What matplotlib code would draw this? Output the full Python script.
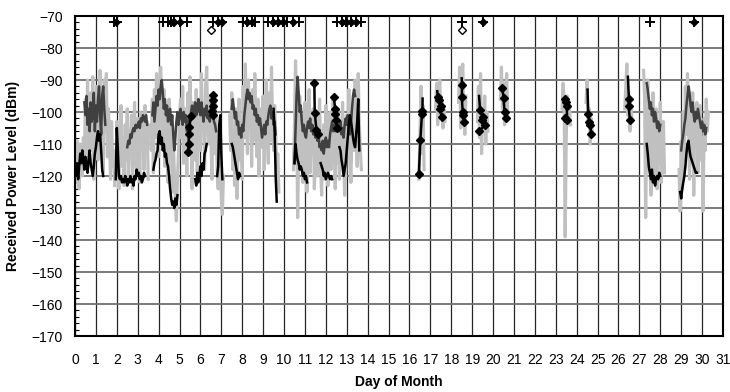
import numpy as np
import matplotlib
matplotlib.use("Agg")
import matplotlib.pyplot as plt
from matplotlib.ticker import MultipleLocator

nan = np.nan
STEP = 0.05  # sample spacing of the logged levels, in days

# light grey trace: segment start day + sampled levels (dBm)
light_start = [0.00, 1.95, 3.60, 7.40, 10.45, 16.45, 17.25, 18.35, 19.25,
               20.35, 23.30, 24.45, 26.30, 27.20, 28.90]
light_dbm = [
    [-112, -122, -109, -118, -124, -110, -116, -120, -108, -115, -96, -113, -90,
     -117, -104, -94, -112, -89, -121, -98, -108, -92, -115, -101, -87, -110,
     -96, -119, -90, -106, -88, -114, -99, -108, -121, -103, -117, -112, -123],
    [-121, -103, -118, -124, -110, -98, -117, -108, -123, -104, -115, -99, -121,
     -106, -112, -101, -124, -105, -97, -114, -119, -102, -108, -122, -100, -111,
     -104, -118, -98, -109, -103, -121],
    [-104, -112, -96, -119, -93, -108, -88, -101, -114, -91, -86, -97, -110, -93,
     -117, -100, -106, -122, -96, -113, -104, -125, -109, -119, -128, -134, -121,
     -113, -101, -96, -108, -92, -116, -99, -104, -120, -94, -110, -89, -102,
     -124, -97, -108, -115, -93, -119, -101, -96, -112, -88, -105, -99, -118,
     -92, -86, -103, -110, -95, -107, -121, -98, -113, -96, -102, -118, -124,
     -109, -115, -127, -132, -120],
    [-101, -112, -94, -118, -106, -123, -99, -127, -110, -96, -115, -103, -121,
     -92, -108, -85, -100, -113, -90, -105, -97, -117, -93, -109, -88, -102,
     -114, -96, -120, -104, -99, -111, -95, -118, -106, -90, -101, -116, -94,
     -109, -86, -103, -112, -98, -107, -119, -113, -125],
    [-118, -104, -84, -97, -133, -110, -95, -116, -101, -122, -108, -97, -113,
     -125, -103, -93, -119, -106, -111, -99, -124, -115, -102, -120, -108, -96,
     -117, -126, -110, -104, -121, -98, -114, -123, -107, -100, -118, -112, -95,
     -109, -124, -103, -116, -99, -121, -106, -113, -97, -110, -126, -118, -101,
     -108, -93, -115, -122, -105, -98, -112, -90, -100, -117, -88, -104, -112,
     -118],
    [-121, -108, -92, -113, -98, -118],
    [-99, -91, -104, -95, -90, -102, -97, -105, -99, -103],
    [-97, -86, -105, -90, -85, -101, -107, -95],
    [-103, -92, -108, -88, -113, -99, -104, -95, -110, -100, -106],
    [-96, -86, -99, -91, -104, -95, -88, -101],
    [-99, -91, -96, -139, -108, -95, -102, -98, -104],
    [-97, -90, -104, -99, -110, -102, -107],
    [-99, -92, -85, -101, -95, -106, -98, -103],
    [-87, -95, -133, -104, -90, -118, -98, -126, -108, -94, -121, -112, -99,
     -124, -105, -116, -97, -122, -110, -103, -119],
    [-118, -131, -109, -124, -100, -115, -92, -107, -88, -103, -121, -96, -112,
     -94, -126, -101, -110, -97, -119, -104, -98, -115, -108, -131, -102, -112,
     -96, -106, -100],
]

# dark grey trace
dark_start = [0.45, 2.50, 3.70, 7.50, 10.50, 27.35, 29.00]
dark_dbm = [
    [-97, -101, -95, -104, -99, -106, -97, -103, -100, -94, -106, -98, -103,
     -96, -92, -101, -107, -95, -92, -99, -104],
    [-111, -109, -110, -107, -108, -106, -105, -106, -104, -105, -104, -103,
     -105, -102, -103, -101, -102, -103, -101, -104],
    [-101, -97, -103, -99, -95, -98, -93, -96, -92, -90, -94, -99, -96, -101,
     -98, -103, -100, -99, -104, -101, -107, -112, -108, -103, -100, -104, -101,
     -99, -102, -104, -100, -103, -101, -106, -104, -102, -103, -100, -98, -102,
     -99, -97, -101, -100, -96, -99, -101, -97, -100, -103, -99, -101, -98,
     -102, -100, -103, -99, -97, -101, -103, -104, -106],
    [-99, -96, -99, -102, -100, -104, -103, -107, -105, -108, -104, -106, -101,
     -98, -95, -93, -96, -94, -97, -95, -99, -98, -101, -99, -103, -101, -104,
     -102, -105, -108, -106, -104, -107, -103, -104, -101, -99, -98, -102, -100,
     -104, -103, -107],
    [-116, -105, -95, -89, -94, -100, -98, -103, -106, -104, -107, -108, -105,
     -103, -105, -102, -106, -104, -107, -105, -108, -106, -109, -107, -111,
     -110, -112, -109, -113, -110, -108, -111, -109, -111, -107, -105, -103,
     -106, -104, -106, -103, -105, -104, -106, -103, -107, -105, -108, -104,
     -102, -104, -101, -105, -107, -104, -99, -95, -93, -95],
    [-91, -93, -96, -99, -97, -101, -99, -103, -100, -102, -105, -103, -106,
     -104],
    [-112, -109, -107, -104, -102, -98, -95, -92, -94, -98, -100, -97, -101,
     -103, -100, -102, -99, -101, -103, -105, -103, -106, -104, -107, -105],
]

# black trace
black_start = [0.00, 1.95, 3.75, 5.75, 6.80, 7.50, 9.50, 10.50, 11.75, 12.65,
               27.35, 28.95]
black_dbm = [
    [-118, -120, -116, -121, -117, -113, -116, -112, -115, -118, -114, -117,
     -119, -115, -112, -116, -118, -120, -117, -113, -111, -108, -106, -109,
     -107, -112, -118, -120],
    [-121, -105, -112, -120, -121, -120, -122, -121, -122, -120, -121, -123,
     -121, -122, -120, -122, -121, -123, -120, -121, -118, -120, -119, -121,
     -120, -122, -121, -119, -120],
    [-118, -116, -115, -113, -112, -107, -106, -110, -108, -112, -110, -114,
     -113, -116, -117, -120, -124, -127, -129, -128, -130, -127, -129, -126],
    [-121, -123, -119, -122, -120, -117, -120, -116, -118, -113, -112, -110],
    [-120, -117, -104, -101, -113, -121],
    [-110, -111, -113, -115, -117, -119, -121, -119, -120],
    [-99, -106, -120, -128],
    [-116, -110, -113, -115, -116, -118, -117, -118, -120, -119, -121, -120,
     -122],
    [-116, -117, -118, -120, -119, -121, -120, -119, -120, -121, -120, -121],
    [-111, -112, -115, -117, -120, -118, -116, -112, -108, -104, -101, -103,
     -105, -108, -110, -111, -107, -103, -96, -112],
    [-110, -113, -117, -119, -121, -118, -122, -120, -123, -121, -120, -121,
     -119, -120],
    [-125, -127, -124, -122, -120, -117, -113, -110, -109, -112, -114, -115,
     -116, -117, -118, -119, -119],
]

# short manual readings, black diamonds joined by a line
diamond_day = [5.55, 5.47, 5.44, 5.44, 5.40, nan, 6.62, 6.60, 6.58, 6.55, 6.60, nan,
               11.45, 11.47, 11.55, 11.62, nan, 12.38, 12.45, 12.42, 12.48, 12.55, nan,
               16.62, 16.60, 16.52, 16.45, nan, 17.35, 17.40, 17.50, 17.45, 17.55, nan,
               18.52, 18.50, 18.55, 18.58, 18.60, nan, 19.38, 19.50, 19.45, 19.60, 19.35, nan,
               20.45, 20.50, 20.55, 20.60, nan, 23.45, 23.50, 23.52, 23.55, 23.45, nan,
               24.55, 24.60, 24.65, 24.70, nan, 26.50, 26.48, 26.55]
diamond_dbm = [-101.4, -104.6, -107, -110, -112.5, nan, -94.7, -96.2, -98.2, -99.8, -101, nan,
               -91, -100.3, -105.6, -107, nan, -95.4, -99, -100.5, -102.6, -105, nan,
               -99.7, -100.5, -108.8, -119.5, nan, -95.4, -96.4, -98, -99, -101.5, nan,
               -91.5, -95.4, -100, -101, -103, nan, -99.5, -101.5, -102.6, -104, -106, nan,
               -92.6, -95.7, -100, -102, nan, -96, -97, -98, -102.6, -102, nan,
               -100.5, -103, -104, -107, nan, -96, -98, -102.6]
# line ends above the diamonds
tail_day = [16.62, 16.63, nan, 17.35, 17.33, nan, 18.52, 18.50, nan, 19.38, 19.33, nan,
            24.55, 24.52, nan, 26.50, 26.45]
tail_dbm = [-99.7, -95.8, nan, -95.4, -93.5, nan, -91.5, -89.5, nan, -99.5, -95, nan,
            -100.5, -93, nan, -96, -89]

# flags along the top of the chart
cross_day = [1.85, 2.00, 4.20, 4.45, 4.60, 4.75, 5.00, 5.35, 6.60, 6.85, 7.05,
             8.05, 8.25, 8.45, 8.60, 9.25, 9.45, 9.70, 9.95, 10.15, 10.45, 10.70,
             12.55, 12.75, 12.95, 13.20, 13.45, 13.70, 18.50, 19.50, 27.50, 29.60]
flag_day = [1.95, 4.60, 4.75, 5.00, 6.85, 7.05, 8.25, 8.45, 9.45, 9.70, 9.95,
            10.45, 12.75, 12.95, 13.20, 13.45, 19.50, 29.60]
open_day = [6.50, 18.50]
flag_level = -72
open_level = -74.5


def build(starts, blocks):
    xs, ys = [], []
    for s, vals in zip(starts, blocks):
        xs += [s + STEP * i for i in range(len(vals))] + [nan]
        ys += list(vals) + [nan]
    return xs, ys


plt.rcParams['font.family'] = ['Liberation Sans', 'DejaVu Sans']
tick_font = ['Liberation Sans Narrow', 'Liberation Sans', 'DejaVu Sans']

fig = plt.figure(figsize=(7.3, 3.92), dpi=100)
ax = fig.add_axes([75 / 730, 56 / 392, 648 / 730, 320 / 392])

lx, ly = build(light_start, light_dbm)
dx, dy = build(dark_start, dark_dbm)
kx, ky = build(black_start, black_dbm)

ax.plot(lx, ly, color='#c0c0c0', lw=2.3, zorder=2)
ax.plot(dx, dy, color='#404040', lw=1.8, zorder=3)
ax.plot(kx, ky, color='black', lw=1.8, zorder=4)
ax.plot(tail_day, tail_dbm, color='black', lw=1.8, zorder=4)
ax.plot(diamond_day, diamond_dbm, color='black', lw=1.8, marker='D', ms=4.5, zorder=5)

ax.plot(cross_day, [flag_level] * len(cross_day), ls='none', marker='+',
        ms=7, mew=1.4, color='black', zorder=6)
ax.plot(flag_day, [flag_level] * len(flag_day), ls='none', marker='D',
        ms=3.5, color='black', zorder=6)
ax.plot(open_day, [open_level] * len(open_day), ls='none', marker='D',
        ms=4, mfc='white', mec='black', mew=1, zorder=6)

ax.set_xlim(0, 31)
ax.set_ylim(-170, -70)
ax.set_xticks(range(0, 32))
ax.set_yticks(range(-170, -69, 10))
ax.yaxis.set_minor_locator(MultipleLocator(2))

ax.set_axisbelow(True)
ax.grid(axis='y', which='major', color='#707070', lw=1.3)
ax.grid(axis='x', which='major', color='#262626', lw=0.9)

for sp in ax.spines.values():
    sp.set_linewidth(1.5)
    sp.set_color('black')

ax.tick_params(axis='x', which='major', length=0, pad=12)
ax.tick_params(axis='y', which='major', length=0, pad=9)
ax.tick_params(axis='y', which='minor', direction='in', length=3, width=0.8)
ax.tick_params(axis='x', which='minor', length=0)
for lab in ax.get_xticklabels() + ax.get_yticklabels():
    lab.set_fontfamily(tick_font)
    lab.set_fontsize(10)

ax.set_xlabel('Day of Month', fontweight='bold', fontsize=10, labelpad=6)
ax.set_ylabel('Received Power Level (dBm)', fontweight='bold', fontsize=10, labelpad=8)

fig.savefig('out.png', dpi=100)
